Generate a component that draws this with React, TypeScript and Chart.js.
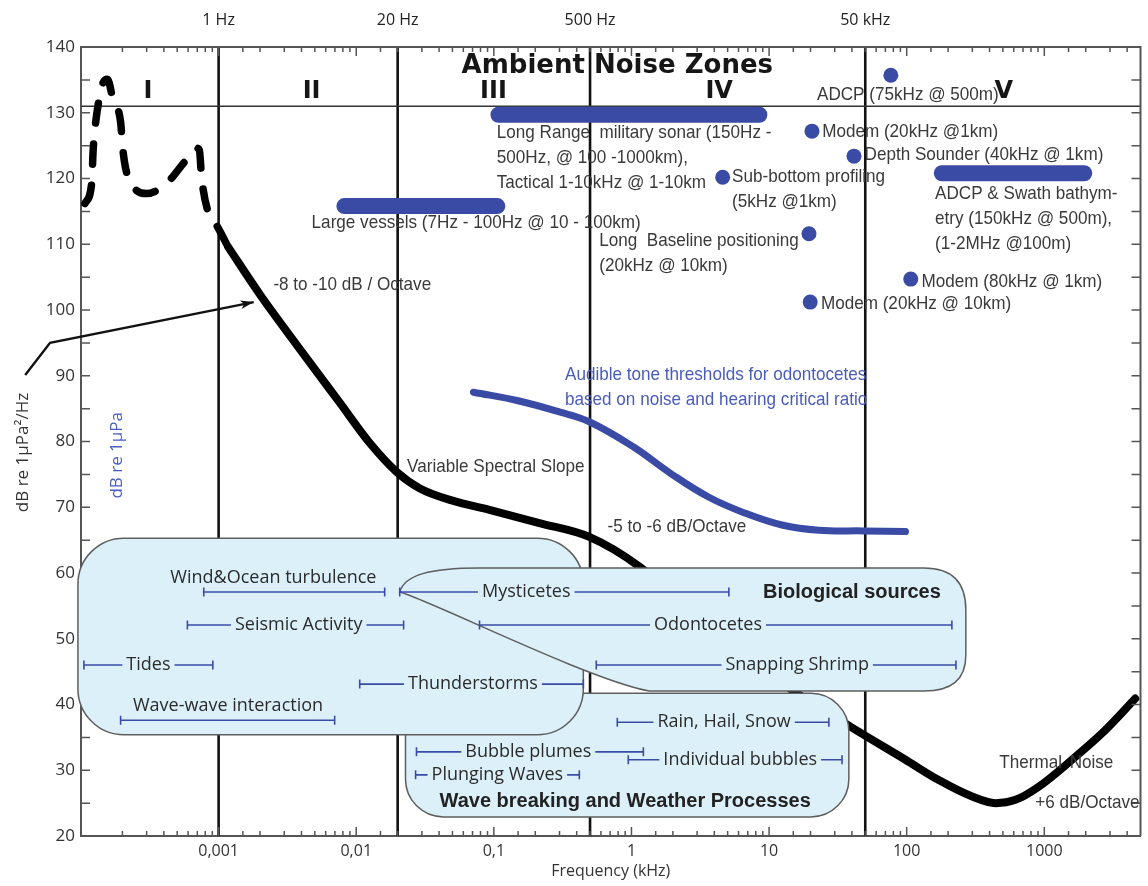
import React, { useEffect, useRef } from "react";
import { Chart, registerables } from "chart.js";

Chart.register(...registerables);

// ---------- axes ----------
const X_MIN = 0.0001;
const X_MAX = 5000;
const Y_MIN = 20;
const Y_MAX = 140;
const xTickValues = [0.001, 0.01, 0.1, 1, 10, 100, 1000];
const xTickLabels = ["0,001", "0,01", "0,1", "1", "10", "100", "1000"];
const refLineFreq = [0.001, 0.02, 0.5, 50];
const refLineLabels = ["1 Hz", "20 Hz", "500 Hz", "50 kHz"];
const zoneBoundaryDb = 131;
const zoneNames = ["I", "II", "III", "IV", "V"];
const zoneLabelFreq = [0.000306, 0.00474, 0.0993, 4.34, 507];
const zoneLabelDb = 133.2;

// ---------- curves ----------
const lowFreqNoiseFreq = [
  0.0001069, 0.0001196, 0.0001211, 0.0001222, 0.0001264, 0.0001336, 0.0001436, 0.0001556, 0.0001713, 0.000194,
  0.000201, 0.000215, 0.000247, 0.0003, 0.000419, 0.000569, 0.000692, 0.000725, 0.000752, 0.000839, 0.000966, 0.001172,
];
const lowFreqNoiseDb = [
  116.2, 119.3, 121.6, 123.8, 127.6, 131.4, 134.4, 135.1, 131.9, 128.6,
  124.6, 120.8, 118.4, 117.7, 119.3, 122.6, 124.6, 124.3, 120.2, 114.9, 112.9, 109.6,
];
const ambientNoiseFreq = [
  0.001172, 0.00199, 0.00388, 0.00759, 0.0125, 0.0196, 0.0288, 0.0501, 0.0929, 0.2143, 0.494,
  1.139, 3.99, 13.96, 39.2, 98, 171, 299, 442, 617, 910, 1589, 2775, 4580,
];
const ambientNoiseDb = [
  109.6, 102.4, 94.1, 85.9, 79.8, 75.4, 72.9, 71.0, 69.6, 67.6, 65.5,
  61.0, 51.0, 42.5, 36.6, 31.6, 28.5, 26.0, 25.0, 25.5, 27.5, 31.6, 36.1, 40.9,
];
const thresholdFreq = [0.0711, 0.15, 0.299, 0.494, 1.03, 1.91, 3.6, 6.7, 12.4, 23, 49, 98];
const thresholdDb = [87.5, 86.2, 84.5, 83.0, 79.2, 75.2, 71.6, 69.1, 67.3, 66.5, 66.4, 66.3];

// ---------- anthropogenic sources ----------
const sonarBarNames = ["Long range military sonar", "Large vessels", "ADCP & Swath bathymetry"];
const sonarBarFrom = [0.108, 0.0082, 180];
const sonarBarTo = [8.5, 0.106, 1950];
const sonarBarDb = [129.7, 115.8, 120.8];

const sourceDotNames = ["ADCP", "Modem 20kHz 1km", "Depth Sounder", "Sub-bottom profiling", "Long Baseline", "Modem 80kHz", "Modem 20kHz 10km"];
const sourceDotFreq = [76.7, 20.5, 41.4, 4.6, 19.5, 107, 19.9];
const sourceDotDb = [135.7, 127.2, 123.4, 120.2, 111.6, 104.7, 101.2];

// ---------- natural source ranges ----------
const rangeNames = [
  "Wind&Ocean turbulence", "Mysticetes", "Seismic Activity", "Odontocetes", "Tides", "Snapping Shrimp",
  "Thunderstorms", "Wave-wave interaction", "Rain, Hail, Snow", "Bubble plumes", "Individual bubbles", "Plunging Waves",
];
const rangeFrom = [0.00078, 0.0207, 0.000593, 0.0787, 0.000105, 0.555, 0.0106, 0.000194, 0.789, 0.0274, 0.948, 0.027];
const rangeTo = [0.0161, 5.1, 0.0221, 213, 0.000908, 228, 0.447, 0.00697, 27.2, 1.22, 33.9, 0.418];
const rangeDb = [57.1, 57.1, 52.1, 52.1, 46.0, 46.0, 43.1, 37.6, 37.3, 32.8, 31.6, 29.3];
const rangeLabelFreq = [0.0025, 0.172, 0.00382, 3.6, 0.000309, 16, 0.0705, 0.00117, 4.71, 0.178, 6.17, 0.106];
const rangeLabelAbove = [true, false, false, false, false, false, false, true, false, false, false, false];

// ---------- annotation texts ----------
const noteTexts = [
  "ADCP (75kHz @ 500m)", "Modem (20kHz @1km)", "Depth Sounder (40kHz @ 1km)", "Sub-bottom profiling", "(5kHz @1km)",
  "ADCP & Swath bathym-", "etry (150kHz @ 500m),", "(1-2MHz @100m)",
  "Long Range  military sonar (150Hz -", "500Hz, @ 100 -1000km),", "Tactical 1-10kHz @ 1-10km",
  "Large vessels (7Hz - 100Hz @ 10 - 100km)", "Long  Baseline positioning", "(20kHz @ 10km)",
  "Modem (80kHz @ 1km)", "Modem (20kHz @ 10km)", "-8 to -10 dB / Octave", "Variable Spectral Slope",
  "-5 to -6 dB/Octave", "Thermal", "Noise", "+6 dB/Octave",
];
const noteFreq = [
  22.3, 24.3, 49.4, 5.38, 5.38, 160.8, 160.8, 160.8, 0.105, 0.105, 0.105, 0.00474, 0.583, 0.583,
  128, 23.8, 0.0025, 0.0234, 0.671, 471, 1528, 861,
];
const noteDb = [
  132.7, 127.1, 123.6, 120.25, 116.4, 117.7, 113.9, 110.1, 126.9, 123.1, 119.3, 113.2, 110.6, 106.8,
  104.3, 101.0, 103.8, 76.2, 67.0, 31.1, 31.1, 25.0,
];
const blueNoteTexts = ["Audible tone thresholds for odontocetes", "based on noise and hearing critical ratio"];
const blueNoteFreq = [0.329, 0.329];
const blueNoteDb = [90.1, 86.3];

// arrow pointing at the -8 to -10 dB/Octave slope
const arrowFreq = [0.0000393, 0.0000596, 0.0018];
const arrowDb = [90.1, 95.0, 101.2];

// ---------- source group boxes (kHz, dB) ----------
const geoBox = { from: 0.000095, to: 0.447, top: 65.3, bottom: 35.4, radius: 46 };
const waveBox = { from: 0.0228, to: 38, top: 41.7, bottom: 22.9, radius: 38 };
const bioBox = {
  tip: [0.0207, 57.1],
  topC1: [0.02244, 59.7], topC2: [0.0341, 60.76], topStart: [0.0787, 60.76],
  topEnd: [133.4, 60.76], trCtrl: [269, 60.76], rightTop: [269, 54.4], rightBottom: [269, 47.5],
  brCtrl: [269, 42.05], bottomRight: [133.4, 42.05], bottomLeft: [1.346, 42.05],
  blC1: [0.494, 43.7], blC2: [0.0341, 55.9],
};

const BLUE = "#3a4ba6";
const TEXT_GRAY = "#3a3a3a";
const FRAME = "#555555";
const SANS = "'Open Sans', 'Noto Sans', sans-serif";
const COND = "'Liberation Sans', Arial, sans-serif";
const HEAVY = "'DejaVu Sans', sans-serif";

const pts = (xs: number[], ys: number[]) => xs.map((x, i) => ({ x, y: ys[i] }));

function drawText(ctx: CanvasRenderingContext2D, s: string, x: number, y: number, font: string, color: string, align: CanvasTextAlign = "left", sx = 1) {
  ctx.save();
  ctx.font = font;
  ctx.fillStyle = color;
  ctx.textAlign = align;
  ctx.textBaseline = "middle";
  ctx.translate(x, y);
  ctx.scale(sx, 1);
  ctx.fillText(s, 0, 0);
  ctx.restore();
}

function roundedRect(ctx: CanvasRenderingContext2D, l: number, t: number, r: number, b: number, rad: number) {
  ctx.beginPath();
  ctx.moveTo(l + rad, t);
  ctx.lineTo(r - rad, t);
  ctx.arcTo(r, t, r, t + rad, rad);
  ctx.lineTo(r, b - rad);
  ctx.arcTo(r, b, r - rad, b, rad);
  ctx.lineTo(l + rad, b);
  ctx.arcTo(l, b, l, b - rad, rad);
  ctx.lineTo(l, t + rad);
  ctx.arcTo(l, t, l + rad, t, rad);
  ctx.closePath();
}

const decorPlugin = {
  id: "decor",
  beforeDatasetsDraw(chart: any) {
    const { ctx, chartArea: a, scales } = chart;
    const x = scales.x, y = scales.y;
    ctx.save();
    ctx.strokeStyle = "#111";
    ctx.lineWidth = 2.6;
    refLineFreq.forEach((f) => {
      const px = x.getPixelForValue(f);
      ctx.beginPath();
      ctx.moveTo(px, a.top);
      ctx.lineTo(px, a.bottom);
      ctx.stroke();
    });
    ctx.strokeStyle = "#333";
    ctx.lineWidth = 1.6;
    const py = y.getPixelForValue(zoneBoundaryDb);
    ctx.beginPath();
    ctx.moveTo(a.left, py);
    ctx.lineTo(a.right, py);
    ctx.stroke();
    ctx.restore();
  },
  afterDatasetsDraw(chart: any) {
    const { ctx, chartArea: a, scales } = chart;
    const x = scales.x, y = scales.y;
    const X = (f: number) => x.getPixelForValue(f);
    const Y = (d: number) => y.getPixelForValue(d);
    ctx.save();

    // frame: top & right border
    ctx.strokeStyle = FRAME;
    ctx.lineWidth = 2;
    ctx.beginPath();
    ctx.moveTo(a.left, a.top);
    ctx.lineTo(a.right, a.top);
    ctx.lineTo(a.right, a.bottom);
    ctx.stroke();

    // inward ticks
    ctx.lineWidth = 1.5;
    for (let d = Y_MIN + 5; d < Y_MAX; d += 5) {
      const py = Y(d);
      ctx.beginPath();
      ctx.moveTo(a.left, py);
      ctx.lineTo(a.left + 9, py);
      ctx.moveTo(a.right, py);
      ctx.lineTo(a.right - 9, py);
      ctx.stroke();
    }
    x.ticks.forEach((t: any) => {
      const v = t.value;
      const lg = Math.log10(v);
      const decade = Math.abs(lg - Math.round(lg)) < 1e-6;
      const len = decade ? 9 : 5;
      const px = X(v);
      if (px <= a.left + 1 || px >= a.right - 1) return;
      ctx.beginPath();
      ctx.moveTo(px, a.top);
      ctx.lineTo(px, a.top + len);
      ctx.moveTo(px, a.bottom);
      ctx.lineTo(px, a.bottom - len);
      ctx.stroke();
    });

    // group boxes
    ctx.fillStyle = "#dcf0fa";
    ctx.strokeStyle = "#5e5e5e";
    ctx.lineWidth = 1.5;
    roundedRect(ctx, X(waveBox.from), Y(waveBox.top), X(waveBox.to), Y(waveBox.bottom), waveBox.radius);
    ctx.fill();
    ctx.stroke();
    roundedRect(ctx, X(geoBox.from), Y(geoBox.top), X(geoBox.to), Y(geoBox.bottom), geoBox.radius);
    ctx.fill();
    ctx.stroke();
    const P = (p: number[]) => [X(p[0]), Y(p[1])];
    const b = bioBox;
    ctx.beginPath();
    const tip = P(b.tip);
    ctx.moveTo(tip[0], tip[1]);
    let c1 = P(b.topC1), c2 = P(b.topC2), e = P(b.topStart);
    ctx.bezierCurveTo(c1[0], c1[1], c2[0], c2[1], e[0], e[1]);
    e = P(b.topEnd);
    ctx.lineTo(e[0], e[1]);
    c1 = P(b.trCtrl);
    e = P(b.rightTop);
    ctx.quadraticCurveTo(c1[0], c1[1], e[0], e[1]);
    e = P(b.rightBottom);
    ctx.lineTo(e[0], e[1]);
    c1 = P(b.brCtrl);
    e = P(b.bottomRight);
    ctx.quadraticCurveTo(c1[0], c1[1], e[0], e[1]);
    e = P(b.bottomLeft);
    ctx.lineTo(e[0], e[1]);
    c1 = P(b.blC1);
    c2 = P(b.blC2);
    ctx.bezierCurveTo(c1[0], c1[1], c2[0], c2[1], tip[0], tip[1]);
    ctx.closePath();
    ctx.fill();
    ctx.stroke();

    // natural source ranges
    const rangeFont = `18px ${SANS}`;
    rangeNames.forEach((name, i) => {
      const x1 = X(rangeFrom[i]);
      const x2 = X(rangeTo[i]);
      const py = Y(rangeDb[i]);
      const xc = X(rangeLabelFreq[i]);
      ctx.font = rangeFont;
      const w = ctx.measureText(name).width;
      ctx.strokeStyle = BLUE;
      ctx.lineWidth = 1.6;
      ctx.beginPath();
      if (rangeLabelAbove[i]) {
        ctx.moveTo(x1, py);
        ctx.lineTo(x2, py);
      } else {
        ctx.moveTo(x1, py);
        ctx.lineTo(Math.max(x1, xc - w / 2 - 4), py);
        ctx.moveTo(Math.min(x2, xc + w / 2 + 4), py);
        ctx.lineTo(x2, py);
      }
      ctx.moveTo(x1, py - 4.5);
      ctx.lineTo(x1, py + 4.5);
      ctx.moveTo(x2, py - 4.5);
      ctx.lineTo(x2, py + 4.5);
      ctx.stroke();
      drawText(ctx, name, xc, rangeLabelAbove[i] ? py - 14 : py, rangeFont, "#2b2b2b", "center");
    });
    drawText(ctx, "Biological sources", X(40), Y(57.1), `bold 20px ${COND}`, "#222", "center");
    drawText(ctx, "Wave breaking and Weather Processes", X(0.9), Y(25.2), `bold 20px ${COND}`, "#222", "center");

    // notes
    noteTexts.forEach((s, i) => {
      drawText(ctx, s, X(noteFreq[i]), Y(noteDb[i]), `19px ${COND}`, TEXT_GRAY, "left", 0.9);
    });
    blueNoteTexts.forEach((s, i) => {
      drawText(ctx, s, X(blueNoteFreq[i]), Y(blueNoteDb[i]), `19px ${COND}`, "#4a5cba", "left", 0.9);
    });

    // zone labels
    drawText(ctx, "Ambient Noise Zones", X(0.789), Y(137.0), `bold 26px ${HEAVY}`, "#161616", "center");
    zoneNames.forEach((z, i) => {
      drawText(ctx, z, X(zoneLabelFreq[i]), Y(zoneLabelDb), `bold 24px ${HEAVY}`, "#161616", "center");
    });

    // arrow
    const ap = arrowFreq.map((f, i) => [X(f), Y(arrowDb[i])]);
    ctx.strokeStyle = "#111";
    ctx.fillStyle = "#111";
    ctx.lineWidth = 2.4;
    ctx.beginPath();
    ctx.moveTo(ap[0][0], ap[0][1]);
    for (let i = 1; i < ap.length; i++) ctx.lineTo(ap[i][0], ap[i][1]);
    ctx.stroke();
    const n = ap.length;
    const ang = Math.atan2(ap[n - 1][1] - ap[n - 2][1], ap[n - 1][0] - ap[n - 2][0]);
    const hl = 14, hw = 0.32;
    ctx.beginPath();
    ctx.moveTo(ap[n - 1][0], ap[n - 1][1]);
    ctx.lineTo(ap[n - 1][0] - hl * Math.cos(ang - hw), ap[n - 1][1] - hl * Math.sin(ang - hw));
    ctx.lineTo(ap[n - 1][0] - hl * 0.7 * Math.cos(ang), ap[n - 1][1] - hl * 0.7 * Math.sin(ang));
    ctx.lineTo(ap[n - 1][0] - hl * Math.cos(ang + hw), ap[n - 1][1] - hl * Math.sin(ang + hw));
    ctx.closePath();
    ctx.fill();

    // axis titles
    ctx.save();
    ctx.translate(23, (a.top + a.bottom) / 2 + 11);
    ctx.rotate(-Math.PI / 2);
    drawText(ctx, "dB re 1μPa²/Hz", 0, 0, `17px ${SANS}`, "#333", "center");
    ctx.restore();
    ctx.save();
    ctx.translate(X(0.0001824), Y(77.9));
    ctx.rotate(-Math.PI / 2);
    drawText(ctx, "dB re 1μPa", 0, 0, `17px ${SANS}`, "#4a5cc0", "center");
    ctx.restore();

    ctx.restore();
  },
};

export default function App() {
  const ref = useRef<HTMLCanvasElement>(null);
  useEffect(() => {
    const canvas = ref.current;
    if (!canvas) return;
    const xLabel = (v: number) => {
      const i = xTickValues.findIndex((t) => Math.abs(v / t - 1) < 1e-6);
      return i >= 0 ? xTickLabels[i] : "";
    };
    const chart = new Chart(canvas, {
      type: "scatter",
      data: {
        datasets: [
          {
            label: "Ambient noise (low frequency, dashed)",
            data: pts(lowFreqNoiseFreq, lowFreqNoiseDb),
            showLine: true,
            borderColor: "#000",
            borderWidth: 7.5,
            borderDash: [20, 21],
            borderCapStyle: "round",
            cubicInterpolationMode: "monotone",
            pointRadius: 0,
          },
          {
            label: "Ambient noise",
            data: pts(ambientNoiseFreq, ambientNoiseDb),
            showLine: true,
            borderColor: "#000",
            borderWidth: 8,
            borderCapStyle: "round",
            borderJoinStyle: "round",
            cubicInterpolationMode: "monotone",
            pointRadius: 0,
          },
          {
            label: "Audible tone thresholds for odontocetes",
            data: pts(thresholdFreq, thresholdDb),
            showLine: true,
            borderColor: BLUE,
            borderWidth: 7,
            borderCapStyle: "round",
            tension: 0.4,
            pointRadius: 0,
          },
          ...sonarBarNames.map((name, i) => ({
            label: name,
            data: [
              { x: sonarBarFrom[i], y: sonarBarDb[i] },
              { x: sonarBarTo[i], y: sonarBarDb[i] },
            ],
            showLine: true,
            borderColor: BLUE,
            borderWidth: 16,
            borderCapStyle: "round" as const,
            pointRadius: 0,
          })),
          {
            label: "Point sources",
            data: pts(sourceDotFreq, sourceDotDb),
            showLine: false,
            pointRadius: 7.5,
            pointBackgroundColor: BLUE,
            pointBorderWidth: 0,
          },
        ],
      },
      options: {
        animation: false,
        responsive: true,
        maintainAspectRatio: false,
        layout: { padding: { left: 0, right: 5, top: 0, bottom: 0 } },
        plugins: { legend: { display: false }, tooltip: { enabled: false } },
        scales: {
          x: {
            type: "logarithmic",
            position: "bottom",
            min: X_MIN,
            max: X_MAX,
            afterFit: (s: any) => {
              s.height = 50;
            },
            grid: { drawOnChartArea: false, drawTicks: false },
            border: { display: true, color: FRAME, width: 2 },
            ticks: {
              autoSkip: false,
              maxRotation: 0,
              padding: 6,
              color: "#333",
              font: { family: SANS, size: 16 },
              callback: (v: any) => xLabel(Number(v)),
            },
            title: {
              display: true,
              text: "Frequency (kHz)",
              color: "#333",
              font: { family: SANS, size: 16 },
              padding: { top: 0, bottom: 5 },
            },
          },
          x2: {
            type: "logarithmic",
            axis: "x",
            position: "top",
            min: X_MIN,
            max: X_MAX,
            afterBuildTicks: (s: any) => {
              s.ticks = refLineFreq.map((v) => ({ value: v }));
            },
            afterFit: (s: any) => {
              s.height = 47;
            },
            grid: { display: false, drawTicks: false },
            border: { display: false },
            ticks: {
              autoSkip: false,
              maxRotation: 0,
              padding: 17,
              color: "#222",
              font: { family: SANS, size: 16 },
              callback: (_v: any, i: number) => refLineLabels[i],
            },
          },
          y: {
            type: "linear",
            min: Y_MIN,
            max: Y_MAX,
            afterFit: (s: any) => {
              s.width = 81;
            },
            grid: { drawOnChartArea: false, drawTicks: false },
            border: { display: true, color: FRAME, width: 2 },
            ticks: {
              stepSize: 10,
              padding: 6,
              color: "#333",
              font: { family: SANS, size: 17 },
            },
          },
        },
      } as any,
      plugins: [decorPlugin],
    });
    return () => chart.destroy();
  }, []);
  return (
    <div style={{ position: "fixed", left: 0, top: 0, width: 1148, height: 886, background: "#fff" }}>
      <canvas ref={ref} />
    </div>
  );
}
